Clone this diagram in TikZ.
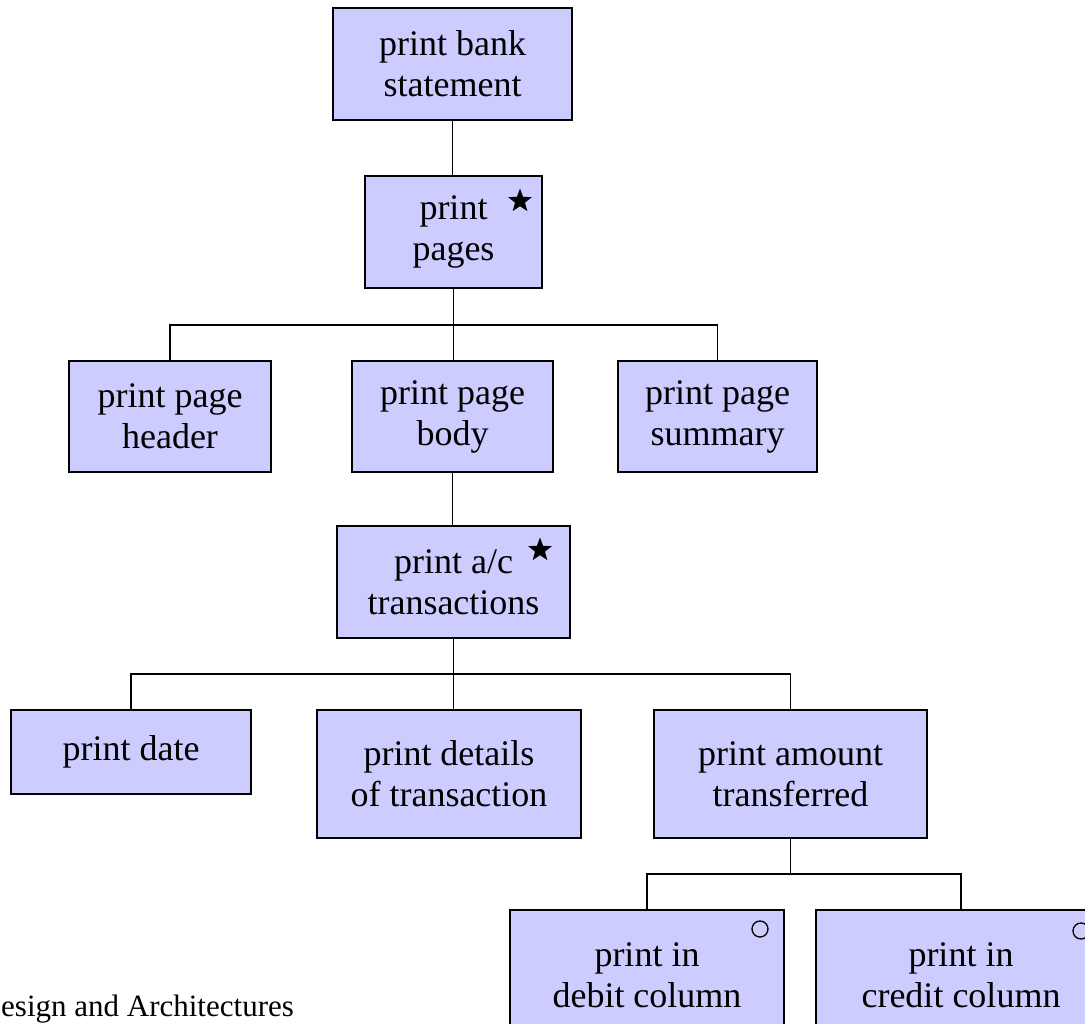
\documentclass[tikz,border=0pt]{standalone}
\usepackage{fontspec}
\setmainfont{Liberation Serif}
\usepackage{xcolor}
\usetikzlibrary{positioning, shapes.geometric}

\definecolor{boxfill}{RGB}{204,204,255}

\begin{document}
\begin{tikzpicture}[
  x=1pt, y=1pt,
  every node/.style={font=\fontsize{36}{41}\selectfont}
]
\tikzset{
  box/.style     ={draw=black, line width=2pt, fill=boxfill,
                   align=center, inner sep=0pt},
  tall/.style    ={box, minimum height=112pt},
  link/.style    ={draw=black, line width=1.8pt},
  starmark/.style={star, star points=5, star point ratio=2.4,
                   fill=black, minimum size=25pt, inner sep=0pt},
  ringmark/.style={circle, draw=black, line width=1.3pt,
                   minimum size=16pt, inner sep=0pt},
  footer/.style  ={font=\fontsize{31}{36}\selectfont, inner sep=0pt}
}
\useasboundingbox (0,0) rectangle (1085,-1024);

%% ----- Top: statement, pages -----
\node[tall, minimum width=239pt] (bank) at (452.5,-64)
  {print bank\\statement};
\node[tall, minimum width=177pt, below=54pt of bank, xshift=1pt] (pages)
  {print\\pages};
\node[starmark] (pagesstar) at ([xshift=-23pt,yshift=-26pt]pages.north east) {};
\draw[link] (bank.south) -- (bank.south |- pages.north);

%% ----- Page parts -----
\node[box, minimum width=201pt, minimum height=111pt,
      below=71pt of pages, xshift=-1pt] (body) {print page\\body};
\node[box, minimum width=202pt, minimum height=111pt,
      left=79pt of body] (header) {print page\\header};
\node[box, minimum width=199pt, minimum height=111pt,
      right=63pt of body] (summary) {print page\\summary};
\draw[link] (pages.south) -- (pages.south |- body.north);
\draw[link] (header.north) -- ++(0,35) -| (summary.north);

%% ----- Transactions -----
\node[tall, minimum width=233pt, below=52pt of body, xshift=1pt] (ac)
  {print a/c\\transactions};
\node[starmark] (acstar) at ([xshift=-31pt,yshift=-25pt]ac.north east) {};
\draw[link] (body.south) -- (body.south |- ac.north);

\node[box, minimum width=264pt, minimum height=128pt,
      below=70pt of ac, xshift=-4.5pt] (details)
  {print details\\of transaction};
\node[box, minimum width=273pt, minimum height=128pt,
      right=71pt of details] (amount) {print amount\\transferred};
\node[box, minimum width=240pt, minimum height=84pt, anchor=north east]
  (date) at ([xshift=-64pt]details.north west) {print date};
\draw[link] (ac.south) -- (ac.south |- details.north);
\draw[link] (date.north) -- ++(0,35) -| (amount.north);

%% ----- Columns (cut by the page edge) -----
\node[box, minimum width=274pt, minimum height=130pt,
      below=70pt of amount, xshift=-143.5pt] (debit)
  {print in\\debit column};
\node[box, minimum width=290pt, minimum height=130pt,
      right=30pt of debit] (credit) {print in\\credit column};
\node[ringmark] (debitring) at ([xshift=-25pt,yshift=-20pt]debit.north east) {};
\node[ringmark] (creditring) at ([xshift=-26pt,yshift=-22pt]credit.north east) {};
\draw[link] (amount.south) -- ++(0,-35);
\draw[link] (debit.north) -- ++(0,35) -| (credit.north);

%% ----- Footer text -----
\node[footer, anchor=base west] (foot) at (1,-1016)
  {esign and Architectures};

\end{tikzpicture}
\end{document}
